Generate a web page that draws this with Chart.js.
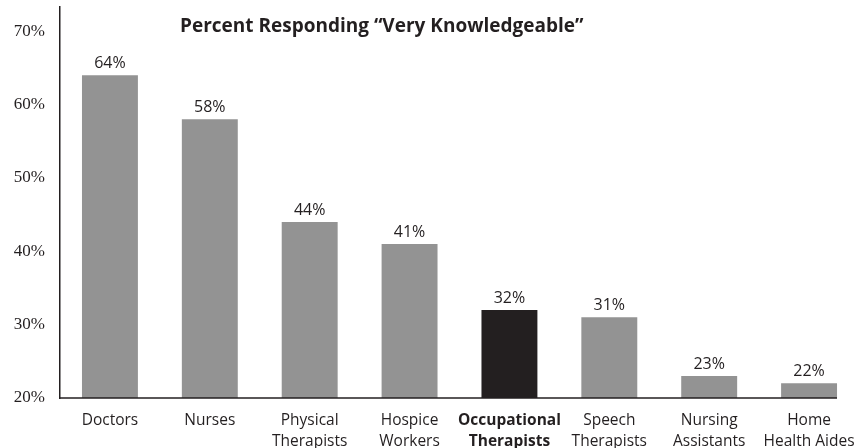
<!DOCTYPE html>
<html>
<head>
<meta charset="utf-8">
<script src="https://cdn.jsdelivr.net/npm/chart.js@4"></script>
<style>
  html, body { margin: 0; padding: 0; background: #ffffff; }
  #wrap { width: 859px; height: 448px; position: relative; }
</style>
</head>
<body>
<div id="wrap"><canvas id="chart"></canvas></div>
<script>
// Share of each profession rated "very knowledgeable"
const categories = [
  ['Doctors'],
  ['Nurses'],
  ['Physical', 'Therapists'],
  ['Hospice', 'Workers'],
  ['Occupational', 'Therapists'],
  ['Speech', 'Therapists'],
  ['Nursing', 'Assistants'],
  ['Home', 'Health Aides']
];
const percentValues = [64, 58, 44, 41, 32, 31, 23, 22];
const yTickValues = [20, 30, 40, 50, 60, 70];
const highlightIndex = 4;
const chartTitle = 'Percent Responding \u201CVery Knowledgeable\u201D';

const INK = '#231f20';
const GREY = '#939393';
const SANS = '"Open Sans", "DejaVu Sans", sans-serif';
const SERIF = '"Liberation Serif", "DejaVu Serif", serif';

// Value labels above bars, baseline under the bars, and the chart heading
const decorations = {
  id: 'decorations',
  afterDatasetsDraw(chart) {
    const ctx = chart.ctx;
    const area = chart.chartArea;
    const bars = chart.getDatasetMeta(0).data;
    ctx.save();
    // baseline from the axis to the right edge of the last bar
    const last = bars[bars.length - 1];
    ctx.strokeStyle = INK;
    ctx.lineWidth = 1.5;
    ctx.beginPath();
    ctx.moveTo(area.left, area.bottom);
    ctx.lineTo(last.x + last.width / 2, area.bottom);
    ctx.stroke();
    // value labels
    ctx.fillStyle = INK;
    ctx.font = '16px ' + SANS;
    ctx.textAlign = 'center';
    ctx.textBaseline = 'middle';
    bars.forEach((bar, i) => {
      ctx.fillText(percentValues[i] + '%', bar.x, bar.y - 12);
    });
    // heading
    ctx.font = 'bold 19px ' + SANS;
    ctx.textAlign = 'left';
    ctx.fillText(chartTitle, 180, 27);
    ctx.restore();
  }
};

new Chart(document.getElementById('chart'), {
  type: 'bar',
  data: {
    labels: categories,
    datasets: [{
      data: percentValues,
      backgroundColor: percentValues.map((_, i) => i === highlightIndex ? INK : GREY),
      borderWidth: 0,
      barPercentage: 0.56,
      categoryPercentage: 1.0
    }]
  },
  plugins: [decorations],
  options: {
    responsive: true,
    maintainAspectRatio: false,
    animation: false,
    layout: { padding: { top: 7, right: 0, bottom: 0, left: 0 } },
    plugins: {
      legend: { display: false },
      tooltip: { enabled: false },
      title: { display: false }
    },
    scales: {
      x: {
        grid: { display: false, drawTicks: false },
        border: { display: false },
        ticks: {
          color: INK,
          padding: 13,
          maxRotation: 0,
          autoSkip: false,
          font: (c) => ({
            family: SANS,
            size: 15.5,
            lineHeight: 1.3,
            weight: c.index === highlightIndex ? 'bold' : 'normal'
          })
        },
        afterFit(scale) {
          scale.height = 50;
          scale.paddingLeft = 0;
          scale.paddingRight = 0;
        }
      },
      y: {
        min: 20,
        max: 73.3,
        grid: { display: false, drawTicks: false },
        border: { display: true, color: INK, width: 1.5 },
        ticks: {
          color: INK,
          padding: 15,
          font: { family: SERIF, size: 17 },
          callback: (v) => v + '%'
        },
        afterBuildTicks(scale) {
          scale.ticks = yTickValues.map(v => ({ value: v }));
        },
        afterFit(scale) {
          scale.width = 60;
          scale.paddingTop = 0;
          scale.paddingBottom = 0;
        }
      }
    }
  }
});
</script>
</body>
</html>
